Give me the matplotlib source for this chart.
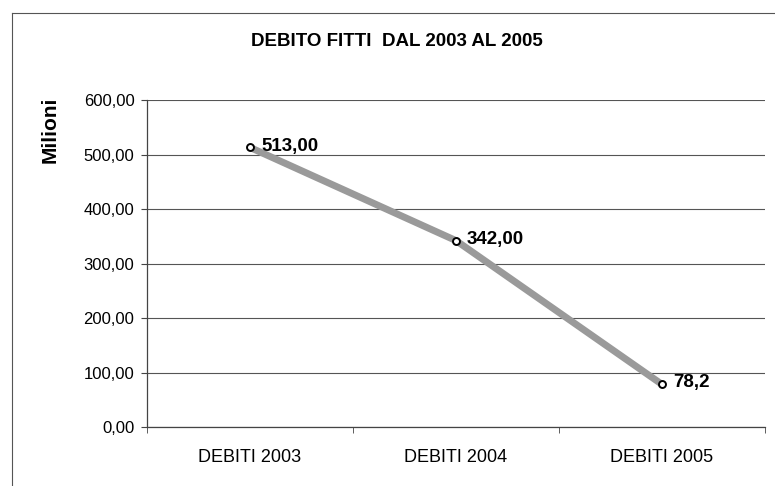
import matplotlib
matplotlib.use("Agg")
import matplotlib.pyplot as plt
from matplotlib.lines import Line2D

categories = ["DEBITI 2003", "DEBITI 2004", "DEBITI 2005"]
values = [513.00, 342.00, 78.2]
labels = ["513,00", "342,00", "78,2"]
yticks = [0, 100, 200, 300, 400, 500, 600]
ytick_labels = ["0,00", "100,00", "200,00", "300,00", "400,00", "500,00", "600,00"]

plt.rcParams['font.family'] = ['Liberation Sans', 'DejaVu Sans']

fig = plt.figure(figsize=(7.75, 4.86), dpi=100)
ax = fig.add_axes([147/775, 1-427/486, (765-147)/775, (427-100)/486])

x = list(range(len(categories)))
ax.plot(x, values, color="#9a9a9a", linewidth=5, solid_capstyle="butt", zorder=3)
ax.plot(x, values, linestyle="none", marker="o", markersize=5, markerfacecolor="white",
        markeredgecolor="black", markeredgewidth=1.4, zorder=4)
for xi, v, lab in zip(x, values, labels):
    ax.annotate(lab, (xi, v), xytext=(8, 1), textcoords="offset points",
                ha="left", va="center", fontsize=13.5, fontweight="bold", zorder=5)

ax.set_xlim(-0.5, 2.5)
ax.set_ylim(0, 600)
ax.set_yticks(yticks)
ax.set_yticklabels(ytick_labels, fontsize=12)
ax.set_xticks(x)
ax.set_xticklabels(categories, fontsize=13)
ax.set_xticks([-0.5, 0.5, 1.5, 2.5], minor=True)
ax.tick_params(axis="x", which="major", length=0, pad=16)
ax.tick_params(axis="x", which="minor", length=4, direction="out", color="#444444")
ax.tick_params(axis="y", length=4, direction="out", color="#444444", pad=5)

ax.grid(axis="y", color="#555555", linewidth=0.8)
ax.set_axisbelow(True)
for s in ["top", "right"]:
    ax.spines[s].set_visible(False)
for s in ["left", "bottom"]:
    ax.spines[s].set_color("#444444")
    ax.spines[s].set_linewidth(0.9)

fig.text(50/775, 1-130/486, "Milioni", rotation=90, ha="center", va="center",
         fontsize=15, fontweight="bold")
fig.text(397/775, 1-42/486, "DEBITO FITTI  DAL 2003 AL 2005", ha="center", va="center",
         fontsize=13.5, fontweight="bold")

# outer chart border
fig.add_artist(Line2D([12/775, 12/775], [0, 1-13/486], transform=fig.transFigure,
                      color="#555555", linewidth=0.8))
fig.add_artist(Line2D([12/775, 1], [1-13/486, 1-13/486], transform=fig.transFigure,
                      color="#555555", linewidth=0.8))

fig.savefig("out.png", dpi=100)
